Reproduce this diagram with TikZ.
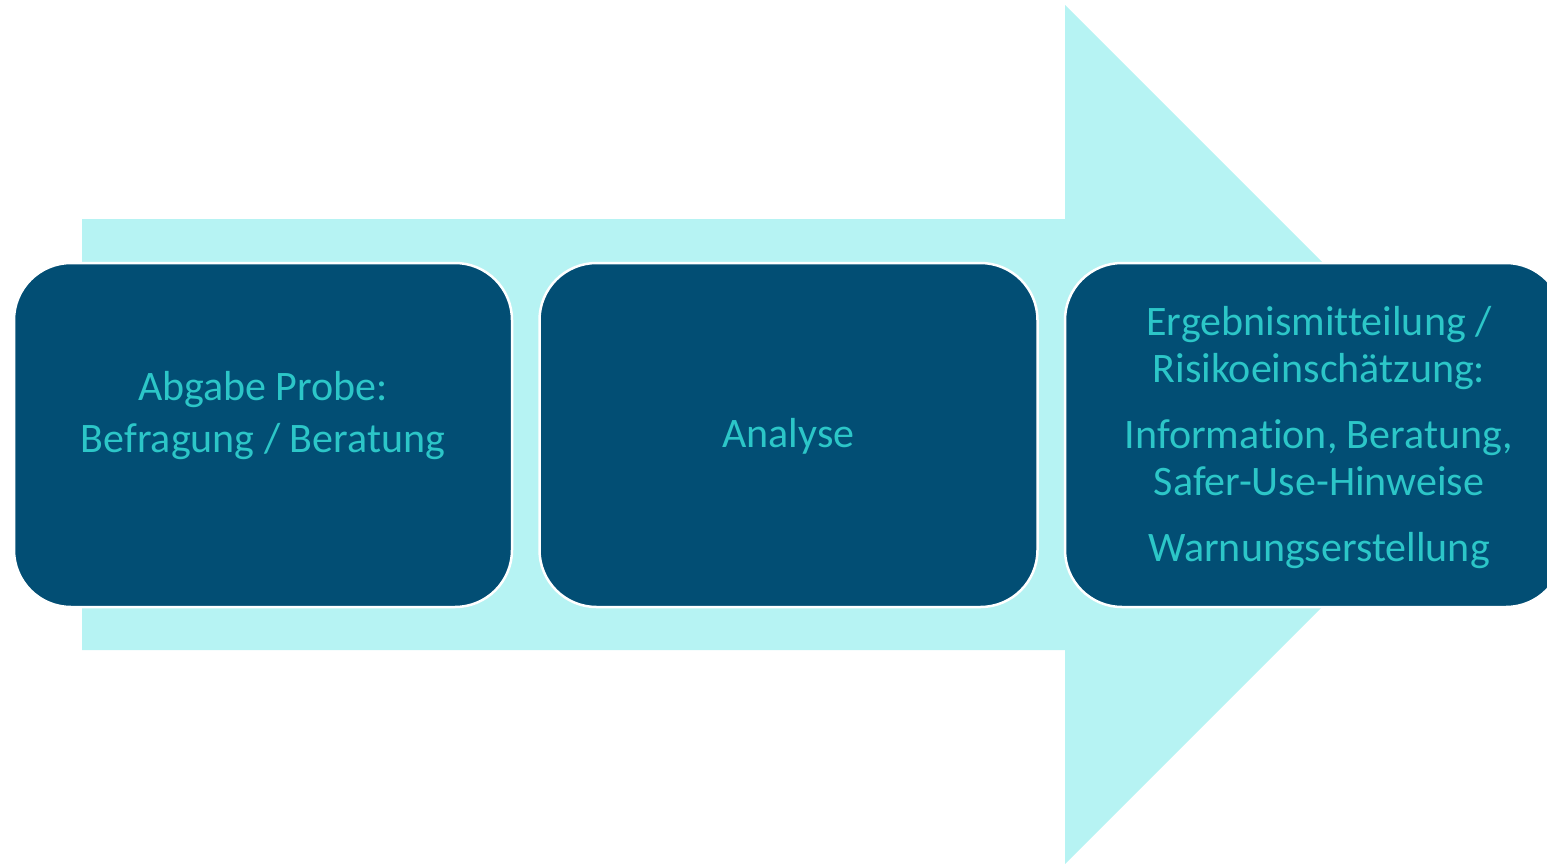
\documentclass[tikz,border=0pt]{standalone}
\usepackage{fontspec}
\setmainfont{Carlito}[Ligatures=NoCommon]
\usetikzlibrary{positioning}
\definecolor{arrowcyan}{RGB}{182,243,243}
\definecolor{boxblue}{RGB}{2,78,116}
\definecolor{textcyan}{RGB}{44,198,200}

\begin{document}
\begin{tikzpicture}[x=1pt,y=-1pt,
        stepbox/.style={draw=white,line width=2.5pt,fill=boxblue,rounded corners=57pt,
            minimum width=498pt,minimum height=344pt,inner sep=0pt},
        steptext/.style={text=textcyan,align=center,inner sep=0pt,
            font=\fontsize{42}{52}\selectfont}
    ]
        \useasboundingbox (0,0) rectangle (1547,863);
        \fill[arrowcyan] (82,219) -- (1065,219) -- (1065,5) -- (1494.5,434.5)
            -- (1065,864) -- (1065,650) -- (82,650) -- cycle;
        \node[stepbox] (probe) at (263,435) {};
        \node[stepbox,right=25pt of probe] (analyse) {};
        \node[stepbox,right=25pt of analyse] (ergebnis) {};
        \node[steptext] (probetext) at ([yshift=19pt]probe.center)
            {Abgabe Probe:\\Befragung / Beratung};
        \node[steptext] (analysetext) at ([yshift=-1pt]analyse.center) {Analyse};
        \node[steptext,font=\fontsize{42}{47}\selectfont] (ergebnistext)
            at ([xshift=5pt,yshift=-3pt]ergebnis.center)
            {Ergebnismitteilung /\\Risikoeinschätzung:\\[19pt]
             Information, Beratung,\\Safer-Use-Hinweise\\[19pt]
             Warnungserstellung};
    \end{tikzpicture}
\end{document}
